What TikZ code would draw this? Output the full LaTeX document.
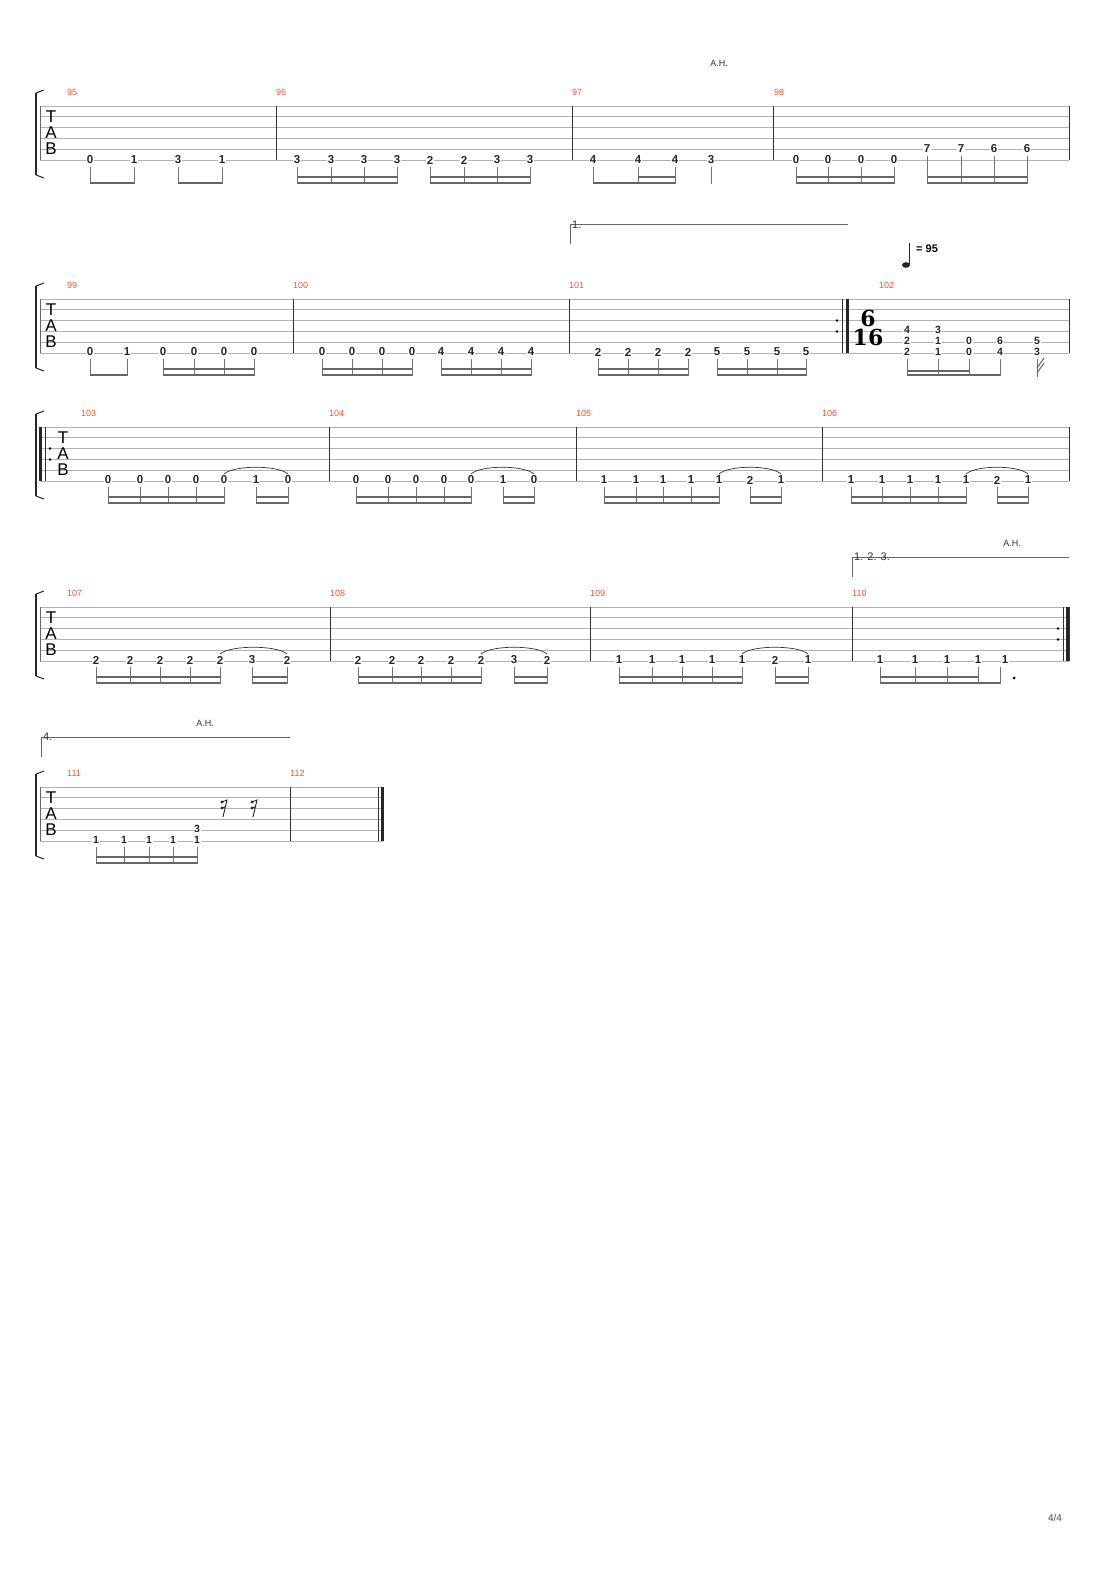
\documentclass[tikz,border=0pt]{standalone}
\usepackage{fontspec}
\setmainfont{Liberation Sans}
\newfontfamily\tsfont{DejaVu Serif}
\begin{document}
\begin{tikzpicture}[x=1pt,y=-1pt,
  staff/.style={draw=black!30,line width=0.7pt},
  bar/.style={draw=black!80,line width=0.8pt},
  fret/.style={fill=white,inner sep=0.6pt,font=\fontsize{11.5}{11.5}\selectfont\bfseries,text=black!85},
  mnum/.style={font=\fontsize{9}{9}\selectfont,text=orange!80!red,anchor=south west,inner sep=0},
  stem/.style={draw=black!55,line width=0.6pt},
  beam/.style={draw=black!60,line width=2.2pt},
  lbl/.style={font=\fontsize{9}{9}\selectfont,text=black!80}]
\definecolor{orange}{RGB}{240,110,50}
\useasboundingbox (0,0) rectangle (1110,1570);
\fill[white] (0,0) rectangle (1110,1570);
\newcommand\tabsys[3]{% top y, right x, clef x
  \foreach \k in {0,...,5}{\draw[staff] (40,{#1+10.8*\k}) -- (#2,{#1+10.8*\k});}
  \draw[black!60,line width=0.6pt] (40,#1) -- (40,{#1+54});
  \draw[black!85,line width=2pt] (36,{#1-13}) -- (36,{#1+69});
  \draw[black!85,line width=1pt] (36,{#1-13}) -- (44,{#1-16}) (36,{#1+69}) -- (44,{#1+72});
  \node[font=\fontsize{17}{17}\selectfont,inner sep=0] at (#3,{#1+11}) {T};
  \node[font=\fontsize{17}{17}\selectfont,inner sep=0] at (#3,{#1+27}) {A};
  \node[font=\fontsize{17}{17}\selectfont,inner sep=0] at (#3,{#1+43}) {B};
  \draw[bar] (#2,#1) -- (#2,{#1+54});}
\newcommand\barl[2]{\draw[bar] (#2,#1) -- (#2,{#1+54});}
\newcommand\mn[3]{\node[mnum] at (#2,{#1-10}) {#3};}
\newcommand\nts[3]{\foreach \nx/\nf in {#2}{\node[fret] at (\nx,#1) {#3\nf};}}
\newcommand\sx[4]{\foreach \sxx in {#2}{\draw[stem] (\sxx,{#1+7}) -- (\sxx,{#1+24});}
  \draw[beam] (#3,{#1+23}) -- (#4,{#1+23}); \draw[beam] (#3,{#1+17}) -- (#4,{#1+17});}
\newcommand\ei[4]{\foreach \sxx in {#2}{\draw[stem] (\sxx,{#1+7}) -- (\sxx,{#1+24});}
  \draw[beam] (#3,{#1+23}) -- (#4,{#1+23});}
\newcommand\tie[3]{\draw[black!80,line width=0.7pt] (#2,{#1-6}) .. controls ({#2+10},{#1-15}) and ({#3-10},{#1-15}) .. (#3,{#1-6});}
\newcommand\rpt[2]{\fill[black] (#2,{#1+21.5}) circle (1.3) (#2,{#1+32.5}) circle (1.3);}
% ===== System 1 =====
\tabsys{106}{1069}{51}
\barl{106}{276}\barl{106}{572}\barl{106}{773}
\mn{106}{67}{95}\mn{106}{276}{96}\mn{106}{572}{97}\mn{106}{774}{98}
\node[lbl] at (719,63) {A.H.};
\nts{160}{90/0,134/1,178/3,222/1,297/3,331/3,364/3,397/3,430/2,464/2,497/3,530/3,593/4,638/4,675/4,711/3,796/0,828/0,861/0,894/0}{}
\nts{149}{927/7,961/7,994/6,1027/6}{}
\ei{160}{90,134}{90}{134}\ei{160}{178,222}{178}{222}
\sx{160}{297,331,364,397}{297}{397}\sx{160}{430,464,497,530}{430}{530}
\ei{160}{593,638,675}{593}{675}\draw[beam] (638,177) -- (675,177);
\draw[stem] (711,167) -- (711,184);
\sx{160}{796,828,861,894}{796}{894}
\foreach \x in {927,961,994,1027}{\draw[stem] (\x,156) -- (\x,184);}
\draw[beam] (927,183) -- (1027,183);\draw[beam] (927,177) -- (1027,177);
% ===== System 2 =====
\tabsys{299}{1069}{51}
\barl{299}{293}\barl{299}{569}
\draw[bar] (842,299) -- (842,353);\draw[black!85,line width=3pt] (847,299) -- (847,353);
\rpt{299}{837}
\mn{299}{67}{99}\mn{299}{293}{100}\mn{299}{569}{101}\mn{299}{879}{102}
\node[font=\tsfont\fontsize{22}{22}\selectfont\bfseries,inner sep=0] at (868,318) {6};
\node[font=\tsfont\fontsize{22}{22}\selectfont\bfseries,inner sep=0] at (868,337) {16};
\draw[black!60,line width=0.8pt] (570,244) -- (570,224) -- (848,224);
\node[font=\fontsize{11}{11}\selectfont,text=black!80,anchor=west,inner sep=0] at (572,225) {1.};
\fill[black!85] (906,265) ellipse (4 and 2.8);
\draw[black!85,line width=0.8pt] (909.5,264) -- (909.5,243);
\node[font=\fontsize{11}{11}\selectfont\bfseries,anchor=west,inner sep=0] at (916,249) {= 95};
\nts{352}{90/0,127/1,163/0,194/0,224/0,254/0,322/0,352/0,382/0,412/0,441/4,471/4,501/4,531/4,598/2,628/2,658/2,688/2,717/5,747/5,777/5,806/5}{}
\nts{330}{907/4,938/3}{\fontsize{10.5}{10.5}\selectfont\bfseries}
\nts{341}{907/2,938/1,969/0,1000/6,1037/5}{\fontsize{10.5}{10.5}\selectfont\bfseries}
\nts{352}{907/2,938/1,969/0,1000/4,1037/3}{\fontsize{10.5}{10.5}\selectfont\bfseries}
\ei{352}{90,127}{90}{127}\sx{352}{163,194,224,254}{163}{254}
\sx{352}{322,352,382,412}{322}{412}\sx{352}{441,471,501,531}{441}{531}
\sx{352}{598,628,658,688}{598}{688}\sx{352}{717,747,777,806}{717}{806}
\ei{352}{907,938,969,1000}{907}{1000}\draw[beam] (907,371) -- (969,371);
\draw[stem] (1037,359) -- (1037,377);
\draw[black!60,line width=1pt] (1037,373) -- (1044,363) (1037,368) -- (1044,358);
% ===== System 3 =====
\tabsys{427}{1069}{63}
\draw[black!85,line width=3pt] (40,427) -- (40,481);\draw[bar] (45,427) -- (45,481);\rpt{427}{50}
\barl{427}{329}\barl{427}{576}\barl{427}{822}
\mn{427}{81}{103}\mn{427}{329}{104}\mn{427}{576}{105}\mn{427}{822}{106}
\foreach \ga/\gb/\gc/\gd/\ge/\gf/\gg/\gp/\gq/\gr in {108/140/168/196/224/256/288/0/1/0,356/388/416/444/471/503/534/0/1/0,604/636/663/691/719/750/781/1/2/1,851/882/910/938/966/997/1028/1/2/1}{
  \tie{480}{\ge}{\gg}
  \nts{480}{\ga/\gp,\gb/\gp,\gc/\gp,\gd/\gp,\ge/\gp,\gf/\gq,\gg/\gr}{}
  \sx{480}{\ga,\gb,\gc,\gd,\ge}{\ga}{\ge}\sx{480}{\gf,\gg}{\gf}{\gg}}
% ===== System 4 =====
\tabsys{607}{1069}{51}
\barl{607}{330}\barl{607}{590}\barl{607}{852}
\draw[bar] (1063,607) -- (1063,661);\draw[black!85,line width=3pt] (1067.5,607) -- (1067.5,661);\rpt{607}{1058}
\mn{607}{67}{107}\mn{607}{330}{108}\mn{607}{590}{109}\mn{607}{852}{110}
\draw[black!60,line width=0.8pt] (852,577) -- (852,557) -- (1069,557);
\node[font=\fontsize{11}{11}\selectfont,text=black!80,anchor=west,inner sep=0] at (854,557) {1. 2. 3.};
\node[lbl] at (1012,543) {A.H.};
\foreach \ga/\gb/\gc/\gd/\ge/\gf/\gg/\gp/\gq/\gr in {96/130/160/190/220/252/287/2/3/2,358/392/421/451/481/514/547/2/3/2,619/652/682/712/742/775/808/1/2/1}{
  \tie{660}{\ge}{\gg}
  \nts{660}{\ga/\gp,\gb/\gp,\gc/\gp,\gd/\gp,\ge/\gp,\gf/\gq,\gg/\gr}{}
  \sx{660}{\ga,\gb,\gc,\gd,\ge}{\ga}{\ge}\sx{660}{\gf,\gg}{\gf}{\gg}}
\nts{660}{880/1,915/1,947/1,978/1,1005/1}{}
\ei{660}{880,915,947,978,1000}{880}{1000}\draw[beam] (880,677) -- (978,677);
\fill[black] (1014,678) circle (1.5);
% ===== System 5 =====
\tabsys{787}{383}{51}
\draw[bar] (378,787) -- (378,841);\draw[black!85,line width=3pt] (382.5,787) -- (382.5,841);
\barl{787}{290}
\mn{787}{67}{111}\mn{787}{290}{112}
\draw[black!60,line width=0.8pt] (41,757) -- (41,737) -- (290,737);
\node[font=\fontsize{11}{11}\selectfont,text=black!80,anchor=west,inner sep=0] at (43,737) {4.};
\node[lbl] at (205,723) {A.H.};
\nts{840}{96/1,124/1,149/1,173/1,197/1}{\fontsize{10.5}{10.5}\selectfont\bfseries}
\node[fret,font=\fontsize{10.5}{10.5}\selectfont\bfseries] at (197,829) {3};
\sx{840}{96,124,149,173,197}{96}{197}
\foreach \x in {225,255}{
  \fill[black!85] (\x-3,802) circle (1.6) (\x-3,808) circle (1.6);
  \draw[black!85,line width=0.9pt] (\x-3,802) -- (\x+2,800) -- (\x-2,817) (\x-3,808) -- (\x+1,806.5);}
\node[font=\fontsize{10}{10}\selectfont,text=black!70] at (1055,1518) {4/4};
\end{tikzpicture}
\end{document}
